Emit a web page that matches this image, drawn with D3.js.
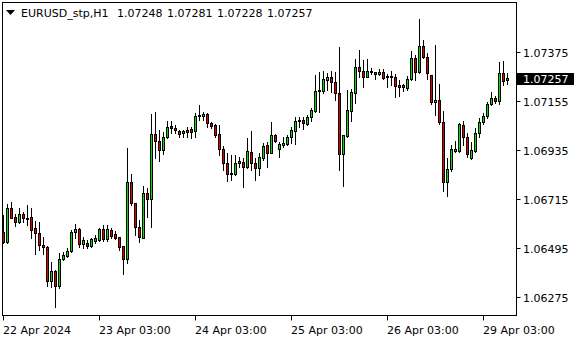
<!DOCTYPE html>
<html><head><meta charset="utf-8">
<script src="https://cdn.jsdelivr.net/npm/d3@7"></script>
<style>html,body{margin:0;padding:0;background:#fff;}svg{display:block;}</style>
</head><body>
<svg id="c" width="580" height="340"></svg>
<script>
const symbolTitle = "EURUSD_stp,H1";
const lastOHLC = ["1.07248", "1.07281", "1.07228", "1.07257"];

const open = [1.06564,1.06522,1.06672,1.06633,1.06609,1.06645,1.06630,1.06633,1.06582,1.06560,
1.06507,1.06498,1.06345,1.06390,1.06324,1.06444,1.06459,1.06480,1.06567,1.06579,
1.06510,1.06515,1.06504,1.06526,1.06529,1.06579,1.06533,1.06574,1.06555,1.06542,
1.06503,1.06443,1.06790,1.06697,1.06587,1.06537,1.06739,1.06712,1.07005,1.06975,
1.06934,1.06991,1.07041,1.07034,1.07019,1.07009,1.07025,1.07028,1.07019,1.07088,
1.07088,1.07094,1.07053,1.07044,1.07004,1.06937,1.06874,1.06829,1.06826,1.06874,
1.06881,1.06859,1.06923,1.06874,1.06854,1.06896,1.06956,1.06921,1.07001,1.06937,
1.06957,1.06960,1.06991,1.07020,1.07062,1.07068,1.07050,1.07083,1.07110,1.07197,
1.07200,1.07248,1.07260,1.07238,1.07191,1.06914,1.06996,1.07110,1.07191,1.07305,
1.07290,1.07263,1.07282,1.07282,1.07276,1.07284,1.07260,1.07265,1.07260,1.07225,
1.07224,1.07213,1.07251,1.07345,1.07285,1.07401,1.07350,1.07269,1.07148,1.07158,
1.07061,1.06791,1.06847,1.06930,1.06930,1.07046,1.06991,1.06896,1.06930,1.07009,
1.07061,1.07088,1.07139,1.07166,1.07152,1.07278,1.07248];

const high = [1.06642,1.06691,1.06701,1.06645,1.06672,1.06654,1.06687,1.06672,1.06615,1.06612,
1.06544,1.06503,1.06432,1.06395,1.06470,1.06474,1.06492,1.06574,1.06600,1.06583,
1.06544,1.06529,1.06540,1.06552,1.06583,1.06597,1.06597,1.06585,1.06571,1.06543,
1.06503,1.06941,1.06826,1.06697,1.06619,1.06772,1.06762,1.07095,1.07104,1.07023,
1.07016,1.07065,1.07065,1.07046,1.07023,1.07023,1.07038,1.07038,1.07101,1.07136,
1.07106,1.07101,1.07061,1.07050,1.07046,1.06952,1.06919,1.06911,1.06911,1.06903,
1.06899,1.06986,1.07019,1.06896,1.06919,1.06966,1.06971,1.07061,1.07005,1.06971,
1.06993,1.07001,1.07038,1.07083,1.07080,1.07083,1.07091,1.07121,1.07270,1.07285,
1.07290,1.07280,1.07288,1.07283,1.07395,1.07001,1.07203,1.07206,1.07341,1.07383,
1.07338,1.07341,1.07300,1.07285,1.07296,1.07296,1.07275,1.07288,1.07275,1.07248,
1.07230,1.07266,1.07379,1.07360,1.07522,1.07427,1.07368,1.07270,1.07405,1.07230,
1.07109,1.06896,1.06956,1.06975,1.07053,1.07065,1.07009,1.06971,1.07031,1.07076,
1.07101,1.07150,1.07193,1.07176,1.07330,1.07333,1.07281];

const low = [1.06516,1.06518,1.06628,1.06594,1.06604,1.06612,1.06597,1.06537,1.06465,1.06485,
1.06465,1.06324,1.06320,1.06230,1.06313,1.06440,1.06455,1.06477,1.06537,1.06499,
1.06495,1.06492,1.06499,1.06517,1.06525,1.06526,1.06526,1.06540,1.06533,1.06485,
1.06377,1.06425,1.06687,1.06552,1.06522,1.06537,1.06631,1.06589,1.06896,1.06886,
1.06914,1.06986,1.07009,1.07009,1.06993,1.06992,1.06993,1.06986,1.06993,1.07068,
1.07068,1.07038,1.07031,1.06991,1.06911,1.06844,1.06796,1.06799,1.06821,1.06859,
1.06769,1.06855,1.06844,1.06799,1.06821,1.06889,1.06859,1.06919,1.06971,1.06901,
1.06948,1.06957,1.06964,1.06960,1.07035,1.07026,1.07046,1.07065,1.07106,1.07106,
1.07191,1.07203,1.07195,1.07158,1.06844,1.06772,1.06993,1.07065,1.07143,1.07263,
1.07218,1.07260,1.07275,1.07251,1.07270,1.07251,1.07218,1.07225,1.07173,1.07177,
1.07200,1.07203,1.07248,1.07248,1.07278,1.07345,1.07251,1.07140,1.07091,1.07050,
1.06751,1.06728,1.06841,1.06926,1.06926,1.06956,1.06901,1.06893,1.06923,1.06993,
1.07050,1.07076,1.07136,1.07143,1.07140,1.07225,1.07228];

const close = [1.06522,1.06672,1.06630,1.06609,1.06645,1.06630,1.06626,1.06576,1.06560,1.06507,
1.06497,1.06345,1.06390,1.06324,1.06444,1.06462,1.06480,1.06567,1.06579,1.06510,
1.06529,1.06504,1.06533,1.06537,1.06579,1.06533,1.06579,1.06549,1.06540,1.06499,
1.06443,1.06790,1.06697,1.06587,1.06542,1.06739,1.06712,1.07005,1.06975,1.06934,
1.06991,1.07038,1.07031,1.07022,1.07004,1.07019,1.07016,1.07016,1.07088,1.07091,
1.07094,1.07053,1.07043,1.07001,1.06937,1.06874,1.06824,1.06824,1.06874,1.06883,
1.06859,1.06929,1.06874,1.06854,1.06901,1.06952,1.06921,1.07001,1.06975,1.06960,
1.06966,1.06991,1.07023,1.07064,1.07068,1.07053,1.07083,1.07113,1.07200,1.07203,
1.07251,1.07260,1.07238,1.07191,1.06914,1.07001,1.07113,1.07193,1.07305,1.07290,
1.07263,1.07287,1.07288,1.07276,1.07284,1.07258,1.07264,1.07262,1.07221,1.07218,
1.07215,1.07251,1.07345,1.07285,1.07401,1.07350,1.07278,1.07150,1.07158,1.07061,
1.06791,1.06847,1.06937,1.06937,1.07049,1.06991,1.06916,1.06934,1.07009,1.07061,
1.07088,1.07139,1.07166,1.07152,1.07278,1.07245,1.07257];

const priceTicks = [1.07375, 1.07155, 1.06935, 1.06715, 1.06495, 1.06275];
const timeTickLabels = ["22 Apr 2024", "23 Apr 03:00", "24 Apr 03:00", "25 Apr 03:00", "26 Apr 03:00", "29 Apr 03:00"];
const timeTickBars = [0, 24, 48, 72, 96, 120];
const currentPrice = 1.07257;

const svg = d3.select("#c");
const FONT = "DejaVu Sans, Verdana, sans-serif";
const frame = {l: 2.5, t: 2.5, r: 516.5, b: 315.5};

const x = d3.scaleLinear().domain([0, open.length - 1]).range([3.5, 3.5 + 4 * (open.length - 1)]);
const y = d3.scaleLinear().domain([1.06275, 1.07375]).range([296.7, 51.7]);

const bars = open.map((o, i) => ({i, o, h: high[i], l: low[i], c: close[i]}));

svg.append("rect").attr("x", 0).attr("y", 0).attr("width", 580).attr("height", 340).attr("fill", "#fff");

const g = svg.append("g");
// wicks
g.selectAll("line.wick").data(bars).join("line")
  .attr("class", "wick")
  .attr("x1", d => x(d.i)).attr("x2", d => x(d.i))
  .attr("y1", d => Math.round(y(d.h))).attr("y2", d => Math.round(y(d.l)) + 1)
  .attr("stroke", "#000").attr("stroke-width", 1);
// bodies
g.selectAll("rect.body").data(bars).join("rect")
  .attr("class", "body")
  .attr("x", d => x(d.i) - 1)
  .attr("width", 2)
  .attr("y", d => Math.round(y(Math.max(d.o, d.c))) + 0.5)
  .attr("height", d => Math.max(0, Math.round(y(Math.min(d.o, d.c))) - Math.round(y(Math.max(d.o, d.c)))))
  .attr("fill", d => d.c >= d.o ? "#00e000" : "#e00000")
  .attr("stroke", "#000").attr("stroke-width", 1);

// frame
svg.append("rect").attr("x", frame.l).attr("y", frame.t)
  .attr("width", frame.r - frame.l).attr("height", frame.b - frame.t)
  .attr("fill", "none").attr("stroke", "#000").attr("stroke-width", 1);

// price axis
const pa = svg.append("g");
priceTicks.forEach(p => {
  const yy = Math.round(y(p)) + 0.5;
  pa.append("line").attr("x1", frame.r).attr("x2", frame.r + 4).attr("y1", yy).attr("y2", yy)
    .attr("stroke", "#000");
  pa.append("text").attr("x", 523).attr("y", yy + 4)
    .attr("font-family", FONT).attr("font-size", 11).attr("fill", "#000")
    .text(d3.format(".5f")(p));
});
// current price marker
const cy = y(currentPrice);
pa.append("rect").attr("x", frame.r + 0.5).attr("y", Math.round(cy) - 5).attr("width", 57).attr("height", 12).attr("fill", "#000");
pa.append("text").attr("x", 523).attr("y", Math.round(cy) + 5)
  .attr("font-family", FONT).attr("font-size", 11).attr("fill", "#fff")
  .text(d3.format(".5f")(currentPrice));

// time axis
const ta = svg.append("g");
timeTickBars.forEach((b, k) => {
  const xx = Math.round(x(b) - 0.5) + 0.5;
  ta.append("line").attr("x1", xx).attr("x2", xx).attr("y1", frame.b).attr("y2", frame.b + 5).attr("stroke", "#000");
  ta.append("text").attr("x", xx - 0.5).attr("y", 334)
    .attr("font-family", FONT).attr("font-size", 11).attr("fill", "#000")
    .text(timeTickLabels[k]);
});

// title
svg.append("path").attr("d", "M6,10 L15,10 L10.5,15 Z").attr("fill", "#000");
const title = svg.append("text").attr("x", 21).attr("y", 17)
  .attr("font-family", FONT).attr("font-size", 11).attr("fill", "#000");
title.append("tspan").text(symbolTitle);
const numX = [117, 167, 217, 267];
lastOHLC.forEach((v, k) => {
  svg.append("text").attr("x", numX[k]).attr("y", 17)
    .attr("font-family", FONT).attr("font-size", 11).attr("fill", "#000").text(v);
});
</script>
</body></html>
